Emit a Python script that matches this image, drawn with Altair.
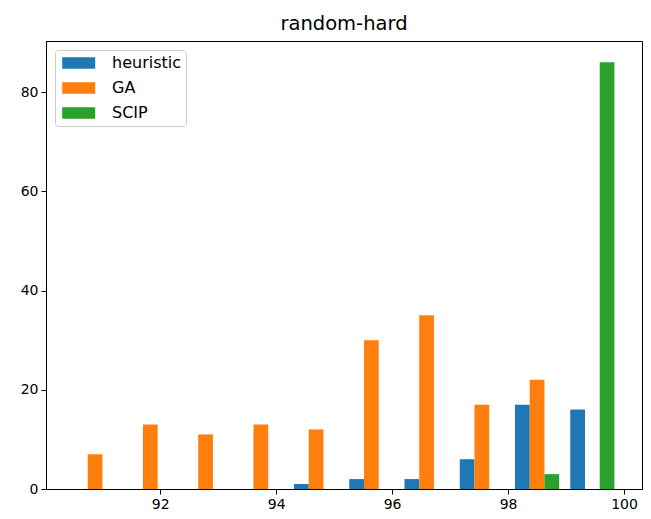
import altair as alt
import numpy as np
import pandas as pd

series = ["heuristic", "GA", "SCIP"]
colors = ["#1f77b4", "#ff7f0e", "#2ca02c"]
heuristic = [0, 0, 0, 0, 1, 2, 2, 6, 17, 16]
ga = [7, 13, 11, 13, 12, 30, 35, 17, 22, 0]
scip = [0, 0, 0, 0, 0, 0, 0, 0, 3, 86]
bin_lo = 90.40
bin_width = 0.953
x_ticks = [92, 94, 96, 98, 100]
y_ticks = [0, 20, 40, 60, 80]

edges = bin_lo + bin_width * np.arange(len(ga))
bar_w = 0.8 * bin_width / len(series)
rows = []
for i, (name, counts) in enumerate(zip(series, [heuristic, ga, scip])):
    for k, c in enumerate(counts):
        if c <= 0:
            continue
        x0 = edges[k] + 0.1 * bin_width + i * bar_w
        rows.append({"series": name, "x0": x0, "x1": x0 + bar_w, "count": c})
df = pd.DataFrame(rows)

chart = alt.Chart(df).mark_bar(strokeWidth=0).encode(
    x=alt.X("x0:Q", scale=alt.Scale(domain=[90.03, 100.31], nice=False, zero=False),
            axis=alt.Axis(values=x_ticks, title=None, grid=False, format="d")),
    x2="x1:Q",
    y=alt.Y("count:Q", scale=alt.Scale(domain=[0, 90.3], nice=False),
            axis=alt.Axis(values=y_ticks, title=None, grid=False)),
    y2=alt.datum(0),
    color=alt.Color("series:N", scale=alt.Scale(domain=series, range=colors),
                    legend=alt.Legend(title=None, orient="none", legendX=9, legendY=9,
                                      symbolType="M-1,-1L4.68,-1L4.68,1L-1,1Z",
                                      symbolSize=135, symbolStrokeWidth=0,
                                      symbolOpacity=1,
                                      labelFontSize=16, labelFont="DejaVu Sans",
                                      labelColor="black", labelOffset=36,
                                      rowPadding=9,
                                      padding=5, strokeColor="#cccccc",
                                      fillColor="rgba(255,255,255,0.8)",
                                      cornerRadius=3)),
).properties(
    width=596, height=448,
    title=alt.TitleParams("random-hard", fontSize=19.5, font="DejaVu Sans",
                          fontWeight="normal", color="black", offset=7),
    autosize=alt.AutoSizeParams(type="none"),
    padding={"left": 38, "top": 33, "right": 1, "bottom": 25},
).configure_view(stroke="black", strokeWidth=1).configure_axis(
    labelFont="DejaVu Sans", labelFontSize=14, labelColor="black",
    tickColor="black", domainColor="black", tickSize=5, labelPadding=3,
    domainWidth=1, tickWidth=1,
)

chart.save("out.html", embed_options={"renderer": "svg", "actions": False})
